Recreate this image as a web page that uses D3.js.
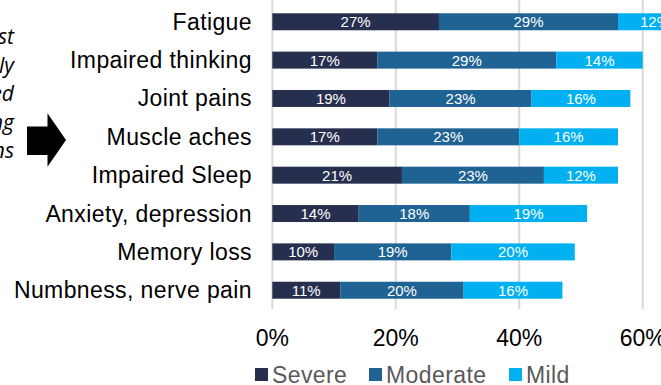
<!DOCTYPE html>
<html>
<head>
<meta charset="utf-8">
<script src="https://cdn.jsdelivr.net/npm/d3@7"></script>
<style>
  html, body { margin: 0; padding: 0; background: #fff; overflow: hidden; }
  svg { display: block; }
</style>
</head>
<body>
<svg id="chart" width="661" height="385"></svg>
<script>
// Symptom categories, top to bottom
const categories = [
  "Fatigue", "Impaired thinking", "Joint pains", "Muscle aches",
  "Impaired Sleep", "Anxiety, depression", "Memory loss", "Numbness, nerve pain"
];
// Share of respondents (%) by severity
const severe   = [27, 17, 19, 17, 21, 14, 10, 11];
const moderate = [29, 29, 23, 23, 23, 18, 19, 20];
const mild     = [12, 14, 16, 16, 12, 19, 20, 16];
const seriesNames = ["Severe", "Moderate", "Mild"];
const seriesColors = ["#272f4f", "#1f6394", "#00b0f0"];
const xTicks = [0, 20, 40, 60];
const sideNote = ["Most", "commonly", "reported", "lingering", "conditions"];

const svg = d3.select("#chart");
const font = "'Liberation Sans', Arial, sans-serif";

const x = d3.scaleLinear().domain([0, 60]).range([272.3, 642.7]);
const y = d3.scaleBand().domain(categories)
  .range([2.6, 309.4]).paddingInner(0.557).paddingOuter(0.2785);

// vertical gridlines
svg.append("g").selectAll("line").data(xTicks).join("line")
  .attr("x1", d => x(d)).attr("x2", d => x(d))
  .attr("y1", 0).attr("y2", 309)
  .attr("stroke", "#d9d9d9").attr("stroke-width", 2);

// stacked series
const rows = categories.map((c, i) => ({ cat: c, Severe: severe[i], Moderate: moderate[i], Mild: mild[i] }));
const stacked = d3.stack().keys(seriesNames)(rows);

const layers = svg.append("g").selectAll("g").data(stacked).join("g")
  .attr("fill", (d, i) => seriesColors[i]);

layers.selectAll("rect").data(d => d).join("rect")
  .attr("x", d => x(d[0]))
  .attr("y", d => y(d.data.cat))
  .attr("width", d => x(d[1]) - x(d[0]))
  .attr("height", y.bandwidth());

// value labels inside segments
layers.selectAll("text").data(d => d.map(p => ({ p, key: d.key }))).join("text")
  .attr("x", d => (x(d.p[0]) + x(d.p[1])) / 2)
  .attr("y", d => y(d.p.data.cat) + y.bandwidth() / 2 + 5.5)
  .attr("text-anchor", "middle")
  .attr("fill", "#ffffff")
  .attr("font-family", font).attr("font-size", 15)
  .text(d => d.p.data[d.key] + "%");

// category labels
svg.append("g").selectAll("text").data(categories).join("text")
  .attr("x", 252)
  .attr("y", d => y(d) + y.bandwidth() / 2 + 8)
  .attr("text-anchor", "end")
  .attr("fill", "#000")
  .attr("font-family", font).attr("font-size", 23)
  .attr("letter-spacing", "0.4px")
  .text(d => d);

// x axis tick labels
svg.append("g").selectAll("text").data(xTicks).join("text")
  .attr("x", d => x(d))
  .attr("y", 346)
  .attr("text-anchor", "middle")
  .attr("fill", "#000")
  .attr("font-family", font).attr("font-size", 23)
  .text(d => d + "%");

// legend
const legendX = [255, 369, 509];
const legend = svg.append("g").selectAll("g").data(seriesNames).join("g")
  .attr("transform", (d, i) => `translate(${legendX[i]},368)`);
legend.append("rect").attr("width", 13).attr("height", 13)
  .attr("fill", (d, i) => seriesColors[i]);
legend.append("text")
  .attr("x", 17).attr("y", 15)
  .attr("fill", "#595959")
  .attr("font-family", font).attr("font-size", 23)
  .attr("letter-spacing", "0.4px")
  .text(d => d);

// side note and arrow pointing at the list
svg.append("g").selectAll("text").data(sideNote).join("text")
  .attr("x", 14)
  .attr("y", (d, i) => 44 + i * 28.5)
  .attr("text-anchor", "end")
  .attr("fill", "#000")
  .attr("font-family", "'Open Sans', sans-serif")
  .attr("font-style", "italic")
  .attr("font-size", 21)
  .text(d => d);

const arrow = d3.path();
arrow.moveTo(27, 126.5);
arrow.lineTo(47.5, 126.5);
arrow.lineTo(47.5, 113.3);
arrow.lineTo(66, 140);
arrow.lineTo(47.5, 166.7);
arrow.lineTo(47.5, 155);
arrow.lineTo(27, 155);
arrow.closePath();
svg.append("path").attr("d", arrow.toString()).attr("fill", "#000");
</script>
</body>
</html>
